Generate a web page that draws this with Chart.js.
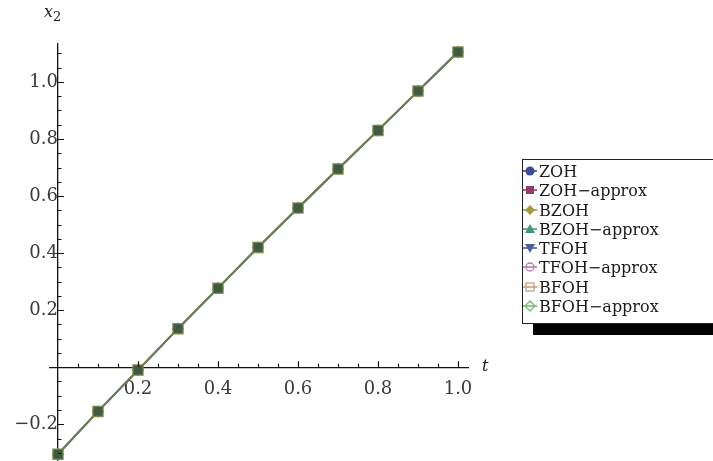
<!DOCTYPE html>
<html>
<head>
<meta charset="utf-8">
<script src="https://cdn.jsdelivr.net/npm/chart.js@4.4.1/dist/chart.umd.min.js"></script>
<style>
  html, body { margin: 0; padding: 0; background: #fff; }
  #wrap { position: relative; width: 713px; height: 461px; overflow: hidden; }
  #plot { position: absolute; left: 0; top: 0; }
  .axis-title { position: absolute; font-family: "DejaVu Serif", serif; font-style: italic; font-size: 16px; color: #222; }
  .axis-title sub { font-style: normal; font-size: 13px; vertical-align: -4px; }
  #legend {
    position: absolute; left: 522px; top: 159px; width: 220px; height: 161px;
    border: 1px solid #222; background: #fff; box-shadow: 11px 11px 0 #000;
    padding-top: 2px; box-sizing: content-box;
  }
  .legend-row { height: 19.3px; line-height: 19.3px; white-space: nowrap;
    font-family: "DejaVu Serif", serif; font-size: 16px; color: #1a1a1a; }
  .legend-row svg { vertical-align: middle; margin-right: 2px; margin-top: -3px; }
</style>
</head>
<body>
<div id="wrap">
  <canvas id="plot" width="713" height="479"></canvas>
  <div class="axis-title" style="left:44px; top:2px;">x<sub>2</sub></div>
  <div class="axis-title" style="left:482px; top:356px;">t</div>
  <div id="legend"></div>
</div>
<script>
// sample times and x2 values (all 8 series lie on top of each other)
const T_VALUES = [0, 0.1, 0.2, 0.3, 0.4, 0.5, 0.6, 0.7, 0.8, 0.9, 1.0];
const X2_ZOH = [-0.305, -0.155, -0.01, 0.135, 0.277, 0.42, 0.558, 0.695, 0.83, 0.968, 1.105];
const X2_ZOH_APPROX = [-0.305, -0.155, -0.01, 0.135, 0.277, 0.42, 0.558, 0.695, 0.83, 0.968, 1.105];
const X2_BZOH = [-0.305, -0.155, -0.01, 0.135, 0.277, 0.42, 0.558, 0.695, 0.83, 0.968, 1.105];
const X2_BZOH_APPROX = [-0.305, -0.155, -0.01, 0.135, 0.277, 0.42, 0.558, 0.695, 0.83, 0.968, 1.105];
const X2_TFOH = [-0.305, -0.155, -0.01, 0.135, 0.277, 0.42, 0.558, 0.695, 0.83, 0.968, 1.105];
const X2_TFOH_APPROX = [-0.305, -0.155, -0.01, 0.135, 0.277, 0.42, 0.558, 0.695, 0.83, 0.968, 1.105];
const X2_BFOH = [-0.305, -0.155, -0.01, 0.135, 0.277, 0.42, 0.558, 0.695, 0.83, 0.968, 1.105];
const X2_BFOH_APPROX = [-0.305, -0.155, -0.01, 0.135, 0.277, 0.42, 0.558, 0.695, 0.83, 0.968, 1.105];

const SERIES_NAMES = ["ZOH", "ZOH\u2212approx", "BZOH", "BZOH\u2212approx", "TFOH", "TFOH\u2212approx", "BFOH", "BFOH\u2212approx"];
const SERIES_VALUES = [X2_ZOH, X2_ZOH_APPROX, X2_BZOH, X2_BZOH_APPROX, X2_TFOH, X2_TFOH_APPROX, X2_BFOH, X2_BFOH_APPROX];

const X_TICK_LABELS = [0.2, 0.4, 0.6, 0.8, 1.0];
const X_MINOR_TICKS = [0.05, 0.1, 0.15, 0.25, 0.3, 0.35, 0.45, 0.5, 0.55, 0.65, 0.7, 0.75, 0.85, 0.9, 0.95];
const Y_TICK_LABELS = [-0.2, 0.2, 0.4, 0.6, 0.8, 1.0];
const Y_MINOR_TICKS = [-0.3, -0.25, -0.15, -0.1, -0.05, 0.05, 0.1, 0.15, 0.25, 0.3, 0.35, 0.45, 0.5, 0.55,
  0.65, 0.7, 0.75, 0.85, 0.9, 0.95, 1.05, 1.1];

// plot marker styles; the markers all sit on the same spot, the square ends up on top
// and carries the muddy overlap colour seen in the picture. z: higher = drawn later
const STYLES = [
  { fill: "rgba(59, 74, 158, 0.9)", point: "circle", r: 4.5, z: 0 },
  { fill: "rgba(58, 88, 62, 0.95)", edge: "rgba(135, 135, 75, 0.9)", point: "rect", r: 7.2, z: 7 },
  { fill: "rgba(150, 140, 60, 0.9)", point: "rectRot", r: 6, z: 2 },
  { fill: "rgba(60, 150, 115, 0.9)", point: "triangle", r: 5, z: 3 },
  { fill: "rgba(70, 90, 160, 0.9)", point: "triangle", rot: 180, r: 5, z: 1 },
  { edge: "rgba(192, 120, 175, 0.8)", point: "circle", r: 4.5, z: 4 },
  { edge: "rgba(200, 160, 125, 0.8)", point: "rect", r: 6, z: 5 },
  { edge: "rgba(110, 175, 110, 0.8)", point: "rectRot", r: 5.5, z: 6 },
];
const LEGEND_COLORS = ["#3b4a9e", "#9a3a6c", "#a8983e", "#3f9a78", "#4a5f9e", "#c07ab0", "#c8a07e", "#7ab87a"];

function buildDatasets() {
  return SERIES_NAMES.map((name, i) => {
    const s = STYLES[i];
    return {
      label: name,
      data: T_VALUES.map((t, k) => ({ x: t, y: SERIES_VALUES[i][k] })),
      showLine: true,
      borderColor: "rgba(105, 125, 85, 0.42)",
      borderWidth: 1.9,
      pointStyle: s.point,
      rotation: s.rot || 0,
      pointRadius: s.r,
      pointBorderWidth: s.edge ? 1.3 : 0,
      pointBorderColor: s.edge || "rgba(0,0,0,0)",
      pointBackgroundColor: s.fill || "rgba(0,0,0,0)",
      order: 10 - s.z,
    };
  });
}

const minorTicks = {
  id: "minorTicks",
  afterDraw(chart) {
    const { ctx, scales } = chart;
    const x = scales.x, y = scales.y;
    const x0 = x.getPixelForValue(0);
    const y0 = y.getPixelForValue(0);
    ctx.save();
    ctx.strokeStyle = "#111";
    ctx.lineWidth = 1.2;
    ctx.beginPath();
    X_TICK_LABELS.forEach((v) => { const p = Math.round(x.getPixelForValue(v)) + 0.5; ctx.moveTo(p, y0); ctx.lineTo(p, y0 - 6); });
    X_MINOR_TICKS.forEach((v) => { const p = Math.round(x.getPixelForValue(v)) + 0.5; ctx.moveTo(p, y0); ctx.lineTo(p, y0 - 3.5); });
    Y_TICK_LABELS.forEach((v) => { const p = Math.round(y.getPixelForValue(v)) + 0.5; ctx.moveTo(x0, p); ctx.lineTo(x0 + 6, p); });
    Y_MINOR_TICKS.forEach((v) => { const p = Math.round(y.getPixelForValue(v)) + 0.5; ctx.moveTo(x0, p); ctx.lineTo(x0 + 3.5, p); });
    ctx.stroke();
    ctx.restore();
  },
};

function markerSvg(i) {
  const c = LEGEND_COLORS[i];
  const line = `<line x1="0" y1="7" x2="14" y2="7" stroke="${c}" stroke-width="1.6"/>`;
  let shape = "";
  switch (i) {
    case 0: shape = `<circle cx="7" cy="7" r="4.5" fill="${c}"/>`; break;
    case 1: shape = `<rect x="3" y="3" width="8" height="8" fill="${c}"/>`; break;
    case 2: shape = `<polygon points="7,2 12,7 7,12 2,7" fill="${c}"/>`; break;
    case 3: shape = `<polygon points="7,2 12,11 2,11" fill="${c}"/>`; break;
    case 4: shape = `<polygon points="2,3 12,3 7,12" fill="${c}"/>`; break;
    case 5: shape = `<circle cx="7" cy="7" r="4" fill="#fff" stroke="${c}" stroke-width="1.3"/>` + line; break;
    case 6: shape = `<rect x="3" y="3" width="8" height="8" fill="#fff" stroke="${c}" stroke-width="1.3"/>` + line; break;
    case 7: shape = `<polygon points="7,2 12,7 7,12 2,7" fill="#fff" stroke="${c}" stroke-width="1.3"/>` + line; break;
  }
  return `<svg width="14" height="14" viewBox="0 0 14 14">${i < 5 ? line : ""}${shape}</svg>`;
}

function buildLegend() {
  const el = document.getElementById("legend");
  el.innerHTML = SERIES_NAMES.map((name, i) => `<div class="legend-row">${markerSvg(i)}${name}</div>`).join("");
}

function initChart() {
  const ctx = document.getElementById("plot").getContext("2d");
  return new Chart(ctx, {
    type: "scatter",
    data: { datasets: buildDatasets() },
    options: {
      responsive: false,
      animation: false,
      devicePixelRatio: 1,
      layout: { padding: { left: 50, right: 245, top: 44, bottom: 0 } },
      plugins: { legend: { display: false }, tooltip: { enabled: false } },
      scales: {
        x: {
          type: "linear",
          min: -0.02,
          max: 1.025,
          position: { y: 0 },
          afterBuildTicks: (scale) => { scale.ticks = X_TICK_LABELS.map((v) => ({ value: v })); },
          grid: { display: false },
          border: { display: true, color: "#111", width: 1.3 },
          ticks: {
            autoSkip: false,
            maxRotation: 0,
            padding: 3,
            color: "#3a3a3a",
            font: { family: "DejaVu Serif", size: 18 },
            callback: (v) => Number(v).toFixed(1),
          },
        },
        y: {
          type: "linear",
          min: -0.333,
          max: 1.133,
          position: { x: 0 },
          afterBuildTicks: (scale) => { scale.ticks = Y_TICK_LABELS.map((v) => ({ value: v })); },
          grid: { display: false },
          border: { display: true, color: "#111", width: 1.3 },
          ticks: {
            autoSkip: false,
            padding: 6,
            color: "#3a3a3a",
            font: { family: "DejaVu Serif", size: 18 },
            callback: (v) => (v < 0 ? "\u2212" + Math.abs(v).toFixed(1) : Number(v).toFixed(1)),
          },
        },
      },
    },
    plugins: [minorTicks],
  });
}

document.addEventListener("DOMContentLoaded", () => {
  buildLegend();
  initChart();
});
</script>
</body>
</html>
